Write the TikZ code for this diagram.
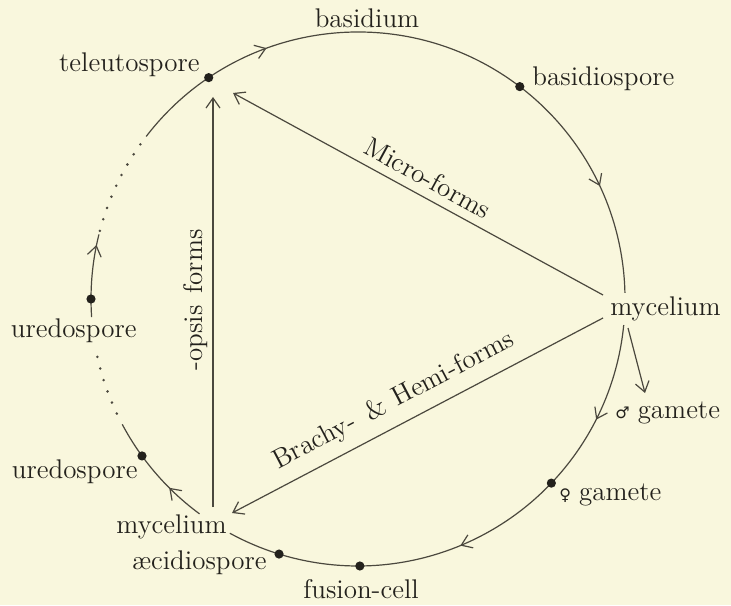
\documentclass[tikz,border=0pt]{standalone}
\usepackage{fontspec}
\newfontfamily\symf{DejaVu Sans}
\usetikzlibrary{arrows.meta,decorations.markings}
\definecolor{bg}{RGB}{249,247,221}
\definecolor{ink}{RGB}{75,72,62}
\definecolor{txt}{RGB}{35,33,28}
\tikzset{barb/.tip={Straight Barb[length=5pt,width=7pt]}}
\begin{document}
\begin{tikzpicture}[x=0.5pt,y=0.5pt,
  lbl/.style={font=\fontsize{13.5}{16}\selectfont, text=txt, inner sep=0pt},
  spot/.style={circle, fill=txt, inner sep=0pt, minimum size=4.6pt},
  cyc/.style={draw=ink, line width=0.6pt},
  dotarc/.style={draw=ink, line width=1.4pt, line cap=round, dash pattern=on 0pt off 6pt},
  flow/.style={-barb, draw=ink, line width=0.6pt},
  twomarks/.style 2 args={postaction={decorate}, decoration={markings,
     mark=at position #1 with {\arrow{barb}}, mark=at position #2 with {\arrow{barb}}}},
  onemark/.style={postaction={decorate}, decoration={markings,
     mark=at position #1 with {\arrow{barb}}}}
]
\fill[bg] (0,0) rectangle (731,605);
\useasboundingbox (0,0) rectangle (731,605);
\coordinate (C) at (358,306);

% cycle arcs
\draw[cyc, twomarks={0.23}{0.832}] ([shift={(142.5:267)}]C) arc[start angle=142.5, end angle=1.3, radius=267];
\draw[cyc, twomarks={0.188}{0.547}] ([shift={(354.4:267)}]C) arc[start angle=354.4, end angle=241.3, radius=267];
\draw[cyc, onemark=0.336] ([shift={(233.6:267)}]C) arc[start angle=233.6, end angle=208, radius=267];
\draw[dotarc] ([shift={(205.4:267)}]C) arc[start angle=205.4, end angle=190.7, radius=267];
\draw[cyc, onemark=0.87] ([shift={(183.9:267)}]C) arc[start angle=183.9, end angle=166, radius=267];
\draw[dotarc] ([shift={(165.2:267)}]C) arc[start angle=165.2, end angle=144, radius=267];

% spore dots
\node[spot] (tel) at ([shift={(124:267)}]C) {};
\node[spot] (bsp) at ([shift={(52.7:267)}]C) {};
\node[spot] (ur1) at ([shift={(180:267)}]C) {};
\node[spot] (ur2) at ([shift={(216:267)}]C) {};
\node[spot] (aec) at ([shift={(252.8:267)}]C) {};
\node[spot] (fus) at ([shift={(270.4:267)}]C) {};
\node[spot] (fem) at ([shift={(316.4:267)}]C) {};

% labels
\node[lbl, anchor=base] (basidium) at (367,577) {basidium};
\node[lbl, anchor=base east] (telL) at (200,533) {teleutospore};
\node[lbl, anchor=base west] (bspL) at (532,519) {basidiospore};
\node[lbl, anchor=base west] (mycR) at (610,290) {mycelium};
\node[lbl, anchor=base west] (maleL) at (615,187) {{\symf\fontsize{8}{10}\selectfont ♂}\hspace{4pt}gamete};
\node[lbl, anchor=base west] (femL) at (559,105) {{\symf\fontsize{8}{10}\selectfont ♀}\hspace{4pt}gamete};
\node[lbl, anchor=base] (fusL) at (361,7) {fusion-cell};
\node[lbl, anchor=base east] (aecL) at (267,36) {æcidiospore};
\node[lbl, anchor=base east] (mycL) at (227,72) {mycelium};
\node[lbl, anchor=base east] (ur2L) at (138,127) {uredospore};
\node[lbl, anchor=base east] (ur1L) at (137,268) {uredospore};

% connector ends
\coordinate (mRa) at (603,310);
\coordinate (mRb) at (603,287);
\coordinate (mRc) at (628,277);
\coordinate (maleTip) at (645,212);
\coordinate (microTip) at (233,512);
\coordinate (brachyTip) at (232,92);
\coordinate (opsisFoot) at (213,98);
\coordinate (opsisTip) at (213,508);

\draw[flow] (mRa) -- (microTip);
\draw[flow] (mRb) -- (brachyTip);
\draw[flow] (opsisFoot) -- (opsisTip);
\draw[flow] (mRc) -- (maleTip);

\node[lbl, rotate=-28.6] (micro) at (428,427) {Micro-forms};
\node[lbl, rotate=27.7] (brachy) at (394,204) {Brachy-\hspace{7pt}\&\hspace{5pt}Hemi-forms};
\node[lbl, rotate=90] (opsis) at (196,305) {-opsis\hspace{6pt}forms};
\end{tikzpicture}
\end{document}
